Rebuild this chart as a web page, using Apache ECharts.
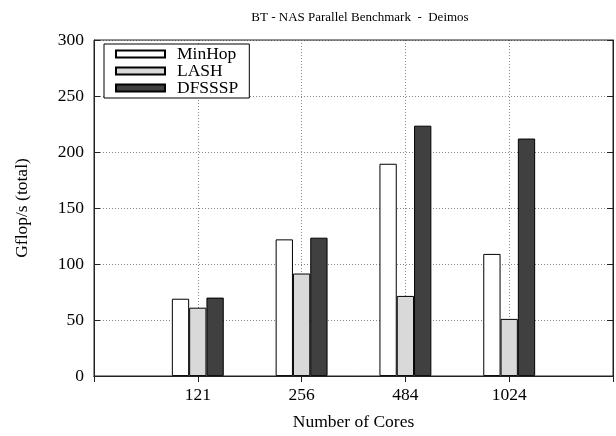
<!DOCTYPE html>
<html>
<head>
<meta charset="utf-8">
<script src="https://cdn.jsdelivr.net/npm/echarts@6/dist/echarts.min.js"></script>
<style>html,body{margin:0;padding:0;background:#fff;}#c{width:616px;height:436px;}</style>
</head>
<body>
<div id="c"></div>
<script>
var categories = ['121', '256', '484', '1024'];
var minHop = [69, 122, 189.5, 109];
var lash = [61, 91.5, 71.5, 51];
var dfsssp = [70, 123.5, 223.5, 212];
var yTicks = [0, 50, 100, 150, 200, 250, 300];

var FONT = 'Liberation Serif';
var axisData = [''].concat(categories).concat(['']);
function pad(arr) { return ['-'].concat(arr).concat(['-']); }

var chart = echarts.init(document.getElementById('c'), null, {renderer: 'canvas'});
var gridLine = {show: true, lineStyle: {color: '#888', width: 1, type: [1, 2]}};
var barBase = {type: 'bar', barWidth: 17.3, barGap: '0%', xAxisIndex: 0, yAxisIndex: 0};
chart.setOption({
  animation: false,
  backgroundColor: '#fff',
  title: {
    text: 'BT - NAS Parallel Benchmark  -  Deimos',
    left: 355, top: 6, textAlign: 'center',
    textStyle: {fontFamily: FONT, fontSize: 13, fontWeight: 'normal', color: '#000'}
  },
  legend: {
    orient: 'vertical', left: 104, top: 44,
    icon: 'rect',
    itemWidth: 49, itemHeight: 7, itemGap: -1,
    padding: [1, 11, 1, 11],
    borderColor: '#000', borderWidth: 1, backgroundColor: '#fff',
    textStyle: {fontFamily: FONT, fontSize: 17.5, color: '#000', lineHeight: 16, padding: [0, 0, 0, 7]},
    data: ['MinHop', 'LASH', 'DFSSSP']
  },
  grid: {left: 94, right: 1, top: 40, bottom: 54, show: true, borderColor: '#222', borderWidth: 1, z: 3},
  xAxis: [{
    type: 'category', data: axisData, boundaryGap: false,
    name: 'Number of Cores', nameLocation: 'middle', nameGap: 37,
    nameTextStyle: {fontFamily: FONT, fontSize: 17.5, color: '#000'},
    axisLine: {show: true, lineStyle: {color: '#222', width: 1}},
    axisTick: {show: true, inside: true, length: 6, lineStyle: {color: '#222'}},
    axisLabel: {fontFamily: FONT, fontSize: 17.5, color: '#000', margin: 10, interval: 0},
    splitLine: gridLine
  }, {
    type: 'category', data: axisData, boundaryGap: false, position: 'top',
    axisLine: {show: true, lineStyle: {color: '#222', width: 1}},
    axisTick: {show: true, inside: true, length: 6, lineStyle: {color: '#222'}},
    axisLabel: {show: false}, splitLine: {show: false}
  }],
  yAxis: [{
    type: 'value', min: 0, max: 300, interval: 50,
    name: 'Gflop/s (total)', nameLocation: 'middle', nameGap: 63,
    nameTextStyle: {fontFamily: FONT, fontSize: 17.5, color: '#000'},
    axisLine: {show: true, lineStyle: {color: '#222', width: 1}},
    axisTick: {show: true, inside: true, length: 6, lineStyle: {color: '#222'}},
    axisLabel: {fontFamily: FONT, fontSize: 17.5, color: '#000', margin: 10,
      formatter: function (v) { return yTicks.indexOf(v) >= 0 ? String(v) : ''; }},
    splitLine: gridLine
  }, {
    type: 'value', min: 0, max: 300, interval: 50, position: 'right',
    axisLine: {show: true, lineStyle: {color: '#222', width: 1}},
    axisTick: {show: true, inside: true, length: 6, lineStyle: {color: '#222'}},
    axisLabel: {show: false}, splitLine: {show: false}
  }],
  series: [
    Object.assign({}, barBase, {name: 'MinHop', data: pad(minHop),
      itemStyle: {color: '#ffffff', borderColor: '#000', borderWidth: 1}}),
    Object.assign({}, barBase, {name: 'LASH', data: pad(lash),
      itemStyle: {color: '#d9d9d9', borderColor: '#000', borderWidth: 1}}),
    Object.assign({}, barBase, {name: 'DFSSSP', data: pad(dfsssp),
      itemStyle: {color: '#404040', borderColor: '#000', borderWidth: 1}})
  ]
});
</script>
</body>
</html>
